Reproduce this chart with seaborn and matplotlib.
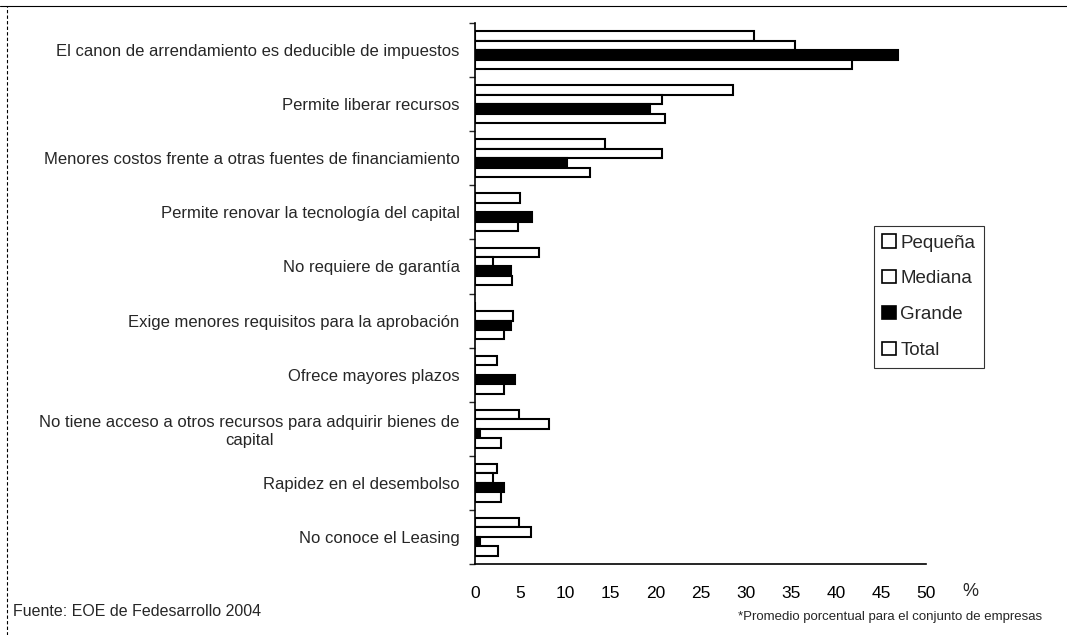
import matplotlib
matplotlib.use("Agg")
import matplotlib.pyplot as plt
import seaborn as sns
import pandas as pd
import numpy as np
from matplotlib.patches import Patch
from matplotlib.lines import Line2D

categories = [
    "El canon de arrendamiento es deducible de impuestos",
    "Permite liberar recursos",
    "Menores costos frente a otras fuentes de financiamiento",
    "Permite renovar la tecnología del capital",
    "No requiere de garantía",
    "Exige menores requisitos para la aprobación",
    "Ofrece mayores plazos",
    "No tiene acceso a otros recursos para adquirir bienes de\ncapital",
    "Rapidez en el desembolso",
    "No conoce el Leasing",
]
series = ["Pequeña", "Mediana", "Grande", "Total"]
pequena = [30.9, 28.6, 14.4, 5.0, 7.1, 0.0, 2.4, 4.9, 2.4, 4.9]
mediana = [35.5, 20.7, 20.7, 0.0, 2.0, 4.2, 0.0, 8.2, 2.0, 6.2]
grande = [46.9, 19.4, 10.2, 6.3, 4.0, 4.0, 4.4, 0.6, 3.2, 0.6]
total = [41.8, 21.1, 12.7, 4.8, 4.1, 3.2, 3.2, 2.9, 2.9, 2.5]
x_ticks = [0, 5, 10, 15, 20, 25, 30, 35, 40, 45, 50]

rows = []
for name, vals in zip(series, [pequena, mediana, grande, total]):
    for c, v in zip(categories, vals):
        rows.append({"cat": c, "serie": name, "valor": v})
df = pd.DataFrame(rows)

sns.set_theme(style="white")
plt.rcParams["font.family"] = ["Liberation Sans", "DejaVu Sans"]

fig = plt.figure(figsize=(10.67, 6.35), dpi=100)
ax = fig.add_axes([475 / 1067, 1 - 564 / 635, (926 - 475) / 1067, (564 - 23) / 635])

palette = {"Pequeña": "white", "Mediana": "white", "Grande": "black", "Total": "white"}
sns.barplot(data=df, y="cat", x="valor", hue="serie", order=categories,
            hue_order=series, palette=palette, orient="h", width=0.7,
            edgecolor="black", linewidth=1.5, ax=ax, legend=False, saturation=1)

ax.set_xlim(0, 50)
ax.set_ylim(len(categories) - 0.5, -0.5)
ax.set_xticks(x_ticks)
ax.set_xticklabels([str(t) for t in x_ticks], fontsize=12.5)
ax.tick_params(axis="x", direction="inout", length=5, width=1, pad=13, colors="black")
ax.set_yticks(range(len(categories)))
ax.set_yticklabels(categories, fontsize=12, multialignment="center")
ax.tick_params(axis="y", length=0, pad=11)
ax.set_yticks(np.arange(-0.5, len(categories), 1), minor=True)
ax.tick_params(axis="y", which="minor", direction="out", length=4, width=1, left=True)
ax.set_xlabel("")
ax.set_ylabel("")
for s in ["top", "right"]:
    ax.spines[s].set_visible(False)
for s in ["left", "bottom"]:
    ax.spines[s].set_color("black")
    ax.spines[s].set_linewidth(1.2)

handles = [Patch(facecolor=palette[s], edgecolor="black", linewidth=1.2, label=s) for s in series]
leg = fig.legend(handles=handles, loc="upper left", bbox_to_anchor=(874 / 1067, 1 - 226 / 635),
                 frameon=True, fontsize=13.5, handlelength=0.7, handleheight=0.7,
                 handletextpad=0.25, labelspacing=1.0, borderpad=0.45, borderaxespad=0,
                 fancybox=False)
leg.get_frame().set_edgecolor("black")
leg.get_frame().set_linewidth(0.8)

fig.text(962 / 1067, 1 - 592 / 635, "%", fontsize=13, ha="left", va="center")
fig.text(13 / 1067, 1 - 612 / 635, "Fuente: EOE de Fedesarrollo 2004", fontsize=11.5, ha="left", va="center")
fig.text(1042 / 1067, 1 - 617 / 635, "*Promedio porcentual para el conjunto de empresas",
         fontsize=9.5, ha="right", va="center")

fig.add_artist(Line2D([0, 1], [1 - 6 / 635, 1 - 6 / 635], transform=fig.transFigure, color="black", linewidth=0.8))
fig.add_artist(Line2D([7 / 1067, 7 / 1067], [0, 1 - 6 / 635], transform=fig.transFigure, color="black",
                      linewidth=0.8, linestyle=(0, (3, 2))))

fig.savefig("out.png", dpi=100, facecolor="white")
